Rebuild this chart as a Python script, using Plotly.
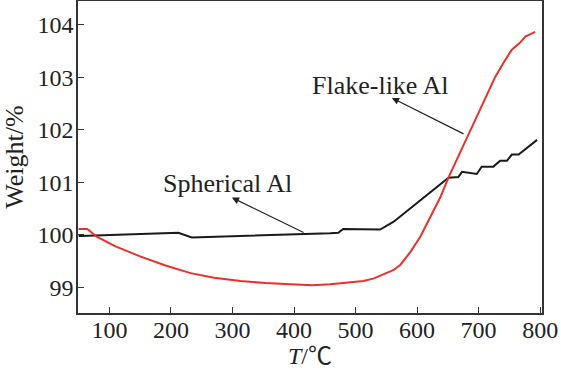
import plotly.graph_objects as go

# Spherical Al (black)
sph_T = [50, 53, 212, 234, 459, 472, 480, 540, 562, 651, 667, 673, 697, 705, 724, 735, 746, 754, 765, 795]
sph_W = [99.98, 99.98, 100.04, 99.95, 100.03, 100.04, 100.11, 100.10, 100.25, 101.09, 101.10, 101.20, 101.16, 101.30, 101.30, 101.41, 101.41, 101.53, 101.53, 101.81]

# Flake-like Al (red)
flk_T = [50, 64, 80, 110, 150, 190, 232, 270, 313, 354, 394, 430, 459, 490, 513, 530, 540, 551, 562, 573, 589, 605, 621, 638, 651, 670, 688, 710, 727, 740, 754, 767, 776, 792]
flk_W = [100.11, 100.11, 99.96, 99.78, 99.59, 99.42, 99.27, 99.18, 99.12, 99.08, 99.06, 99.04, 99.06, 99.09, 99.12, 99.17, 99.22, 99.27, 99.33, 99.43, 99.67, 99.96, 100.32, 100.72, 101.09, 101.57, 102.02, 102.57, 103.01, 103.27, 103.53, 103.66, 103.78, 103.87]

x_ticks = [100, 200, 300, 400, 500, 600, 700, 800]
y_ticks = [99, 100, 101, 102, 103, 104]

FONT = "Liberation Serif, Times New Roman, Noto Sans CJK SC, serif"
AX = "#333333"

fig = go.Figure()
fig.add_trace(go.Scatter(x=sph_T, y=sph_W, mode="lines",
                         line=dict(color="#1a1a1a", width=2), showlegend=False))
fig.add_trace(go.Scatter(x=flk_T, y=flk_W, mode="lines",
                         line=dict(color="#e8312a", width=2), showlegend=False))

axis_common = dict(showline=True, linecolor=AX, linewidth=1.5, mirror=True,
                   ticks="inside", ticklen=6, tickwidth=1.3, tickcolor=AX,
                   showgrid=False, zeroline=False, automargin=False,
                   tickfont=dict(family=FONT, size=24, color="#222222"))

fig.update_xaxes(range=[49, 803], tickvals=x_ticks, ticktext=[str(v) for v in x_ticks],
                 ticklabelstandoff=-6,
                 title=dict(text="<i>T</i>/℃", font=dict(family=FONT, size=24, color="#222222"), standoff=6),
                 **axis_common)
fig.update_yaxes(range=[98.51, 104.457], tickvals=y_ticks, ticktext=[str(v) for v in y_ticks],
                 ticklabelstandoff=-2,
                 title=dict(text="Weight/%", font=dict(family=FONT, size=26, color="#222222"), standoff=6),
                 **axis_common)

# arrows
fig.add_annotation(x=559, y=102.61, ax=678, ay=101.91, xref="x", yref="y", axref="x", ayref="y",
                   text="", showarrow=True, arrowhead=2, arrowsize=1.2, arrowwidth=1.2, arrowcolor="#222222")
fig.add_annotation(x=299, y=100.71, ax=418, ay=100.03, xref="x", yref="y", axref="x", ayref="y",
                   text="", showarrow=True, arrowhead=2, arrowsize=1.2, arrowwidth=1.2, arrowcolor="#222222")
# labels
fig.add_annotation(x=539, y=102.84, xref="x", yref="y", text="Flake-like Al", showarrow=False,
                   font=dict(family=FONT, size=26, color="#222222"))
fig.add_annotation(x=292, y=100.98, xref="x", yref="y", text="Spherical Al", showarrow=False,
                   font=dict(family=FONT, size=26, color="#222222"))

fig.update_layout(width=561, height=370, margin=dict(l=78, r=19, t=1, b=57),
                  paper_bgcolor="white", plot_bgcolor="white")

fig.write_html("out.html", config={"displayModeBar": False})
with open("out.html", "r", encoding="utf-8") as f:
    html = f.read()
html = html.replace("<body>", '<body style="margin:0;padding:0;overflow:hidden">', 1)
with open("out.html", "w", encoding="utf-8") as f:
    f.write(html)
